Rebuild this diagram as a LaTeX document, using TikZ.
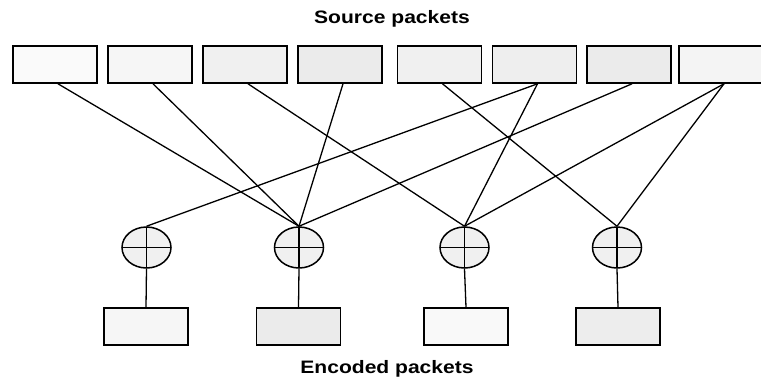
\documentclass[tikz,border=0pt]{standalone}
\usepackage{fontspec}
\newfontfamily\labfont[FakeStretch=1.17]{Liberation Sans}
\usetikzlibrary{shapes.geometric}
\begin{document}
\begin{tikzpicture}[x=1pt,y=-1pt,
  pkt/.style={draw=black,line width=1.6pt,fill=gray!10,minimum width=84pt,minimum height=37pt,inner sep=0pt},
  xorn/.style={draw=black,line width=1.5pt,fill=gray!12,ellipse,minimum width=49pt,minimum height=41pt,inner sep=0pt,
    path picture={\draw[line width=1.5pt] (path picture bounding box.west) -- (path picture bounding box.east)
      (path picture bounding box.north) -- (path picture bounding box.south);}},
  edge/.style={line width=1.3pt},
  lab/.style={font=\labfont\bfseries\fontsize{18}{20}\selectfont,inner sep=0pt}]
\useasboundingbox (0,0) rectangle (761,381);
\node[lab] (src) at (392,19) {Source packets};
\node[lab] (enc) at (387,369) {Encoded packets};
\foreach \i/\x/\f in {1/55/4,2/150/7,3/245/12,4/340/16,5/439.5/12,6/534.5/13,7/629/16,8/721/9}
  \node[pkt,fill=gray!\f] (s\i) at (\x,64.5) {};
\foreach \i/\x in {1/146.5,2/299,3/464.5,4/617}
  \node[xorn] (x\i) at (\x,247.5) {};
\foreach \i/\x/\f in {1/146/7,2/298.5/16,3/466/5,4/618/14}
  \node[pkt,fill=gray!\f] (e\i) at (\x,326.5) {};
\foreach \a/\b in {1/2,2/2,4/2,7/2,3/3,6/3,8/3,5/4,8/4,6/1}
  \draw[edge] ([xshift=3pt]s\a.south) -- (x\b.north);
\foreach \i in {1,2,3,4}
  \draw[edge] (x\i.south) -- (e\i.north);
\end{tikzpicture}
\end{document}
